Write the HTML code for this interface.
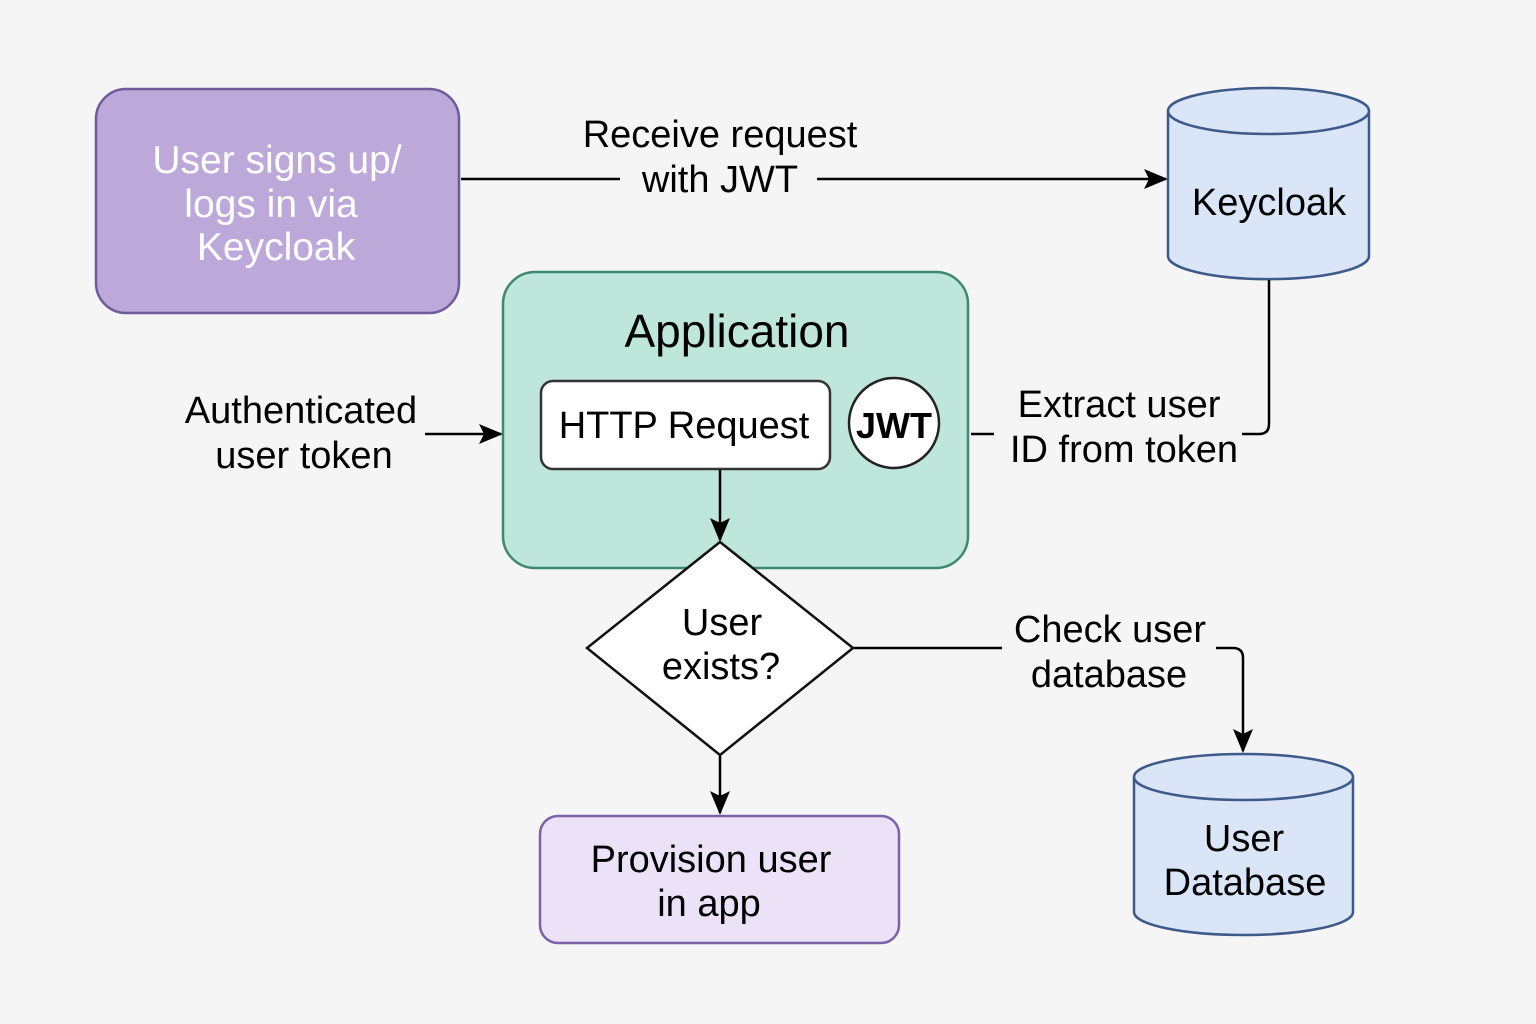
<!DOCTYPE html>
<html><head><meta charset="utf-8"><style>
html,body{margin:0;padding:0;background:#f5f5f5;}
svg{display:block;}
text{font-family:"Liberation Sans","DejaVu Sans",sans-serif;text-anchor:middle;}
</style></head><body>
<svg width="1536" height="1024" viewBox="0 0 1536 1024" xmlns="http://www.w3.org/2000/svg">
<defs>
<marker id="b" viewBox="0 0 24 24" markerWidth="24" markerHeight="24" refX="22" refY="12" orient="auto" markerUnits="userSpaceOnUse"><path d="M0,2 L24,12 L0,22 L5,12 Z" fill="#000"/></marker></defs>
<rect width="1536" height="1024" fill="#f5f5f5"/>
<rect x="96" y="89" width="363" height="224" rx="30" fill="#bca9da" stroke="#6f5a9c" stroke-width="2.5"/>
<g font-size="39" fill="#fff">
<text x="277" y="173">User signs up/</text>
<text x="271" y="217">logs in via</text>
<text x="276" y="260">Keycloak</text>
</g>
<path d="M461 179 H620 M817 179 H1166" stroke="#000" stroke-width="2.5" fill="none" marker-end="url(#b)"/>
<g font-size="38">
<text x="720" y="147">Receive request</text>
<text x="720" y="192">with JWT</text>
</g>
<path d="M1168 111 V256 A100 23 0 0 0 1369 256 V111" fill="#dae6f8" stroke="#3d5a8a" stroke-width="2.5"/>
<ellipse cx="1268.5" cy="111" rx="100.5" ry="23" fill="#dae6f8" stroke="#3d5a8a" stroke-width="2.5"/>
<text x="1269" y="215" font-size="38">Keycloak</text>
<path d="M1269 280 V424 Q1269 434 1259 434 H1242 M994 434 H971" stroke="#000" stroke-width="2.5" fill="none"/>
<g font-size="38">
<text x="1119" y="417">Extract user</text>
<text x="1124" y="462">ID from token</text>
</g>
<rect x="503" y="272" width="465" height="296" rx="32" fill="#bfe6da" stroke="#3e8a70" stroke-width="2.5"/>
<text x="737" y="347" font-size="46">Application</text>
<rect x="541" y="381" width="289" height="88" rx="12" fill="#fff" stroke="#333" stroke-width="2.5"/>
<text x="684" y="438" font-size="38">HTTP Request</text>
<circle cx="894" cy="423" r="45" fill="#fff" stroke="#222" stroke-width="2.5"/>
<text x="894" y="438" font-size="36" font-weight="bold">JWT</text>
<g font-size="38">
<text x="301" y="423">Authenticated</text>
<text x="304" y="468">user token</text>
</g>
<path d="M425 434 H501" stroke="#000" stroke-width="2.5" fill="none" marker-end="url(#b)"/>
<path d="M720 470 V540" stroke="#000" stroke-width="2.5" fill="none" marker-end="url(#b)"/>
<polygon points="720,542 853,648 720,755 587,648" fill="#fff" stroke="#111" stroke-width="2.5"/>
<g font-size="38">
<text x="722" y="635">User</text>
<text x="721" y="679">exists?</text>
</g>
<path d="M720 756 V813" stroke="#000" stroke-width="2.5" fill="none" marker-end="url(#b)"/>
<rect x="540" y="816" width="359" height="127" rx="18" fill="#ebe2f8" stroke="#7a62a8" stroke-width="2.5"/>
<g font-size="38">
<text x="711" y="872">Provision user</text>
<text x="709" y="916">in app</text>
</g>
<path d="M854 648 H1002 M1216 648 H1233 Q1243 648 1243 658 V751" stroke="#000" stroke-width="2.5" fill="none" marker-end="url(#b)"/>
<g font-size="38">
<text x="1110" y="642">Check user</text>
<text x="1109" y="687">database</text>
</g>
<path d="M1134 777 V912 A109.5 23 0 0 0 1353 912 V777" fill="#dae6f8" stroke="#3d5a8a" stroke-width="2.5"/>
<ellipse cx="1243.5" cy="777" rx="109.5" ry="23" fill="#dae6f8" stroke="#3d5a8a" stroke-width="2.5"/>
<g font-size="38">
<text x="1244" y="851">User</text>
<text x="1245" y="895">Database</text>
</g>
</svg>
</body></html>
